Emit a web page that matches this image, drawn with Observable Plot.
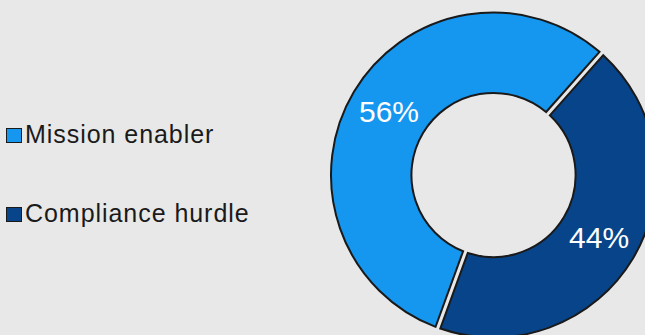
<!DOCTYPE html>
<html>
<head>
<meta charset="utf-8">
<script src="https://cdn.jsdelivr.net/npm/d3@7"></script>
<script src="https://cdn.jsdelivr.net/npm/@observablehq/plot@0.6"></script>
<style>
  html, body { margin: 0; padding: 0; background: #e8e8e8; }
  #wrap { position: relative; width: 645px; height: 335px; overflow: hidden; background: #e8e8e8; }
  #wrap svg { position: absolute; left: 0; top: 0; }
  .lg-row { position: absolute; left: 6px; white-space: nowrap;
    font-family: "Liberation Sans", Arial, sans-serif; font-size: 25px; line-height: 30px;
    letter-spacing: 0.95px; color: #1a1a1a; }
  .lg-sw { display: inline-block; box-sizing: border-box; width: 15.5px; height: 15.5px;
    border: 1.6px solid #1a1a1a; margin-right: 3.5px; vertical-align: baseline; }
</style>
</head>
<body>
<div id="wrap"></div>
<script>
// ---- data ----
const categories = ["Mission enabler", "Compliance hurdle"];
const shares = [56, 44];
const sliceLabels = ["56%", "44%"];
const sliceColors = ["#1596ef", "#084489"];
const firstSliceAngle = 200;   // degrees, clockwise from 12 o'clock
const holeFraction = 0.505;    // inner radius / outer radius

const data = categories.map((c, i) => ({category: c, share: shares[i], label: sliceLabels[i]}));
const a0 = firstSliceAngle * Math.PI / 180;
const arcs = d3.pie().value(d => d.share).sort(null).startAngle(a0).endAngle(a0 + 2 * Math.PI)(data);
const labelR = (1 + holeFraction) / 2;
const labelData = arcs.map(a => {
  const m = (a.startAngle + a.endAngle) / 2;
  return {label: a.data.label, x: Math.sin(m) * labelR, y: Math.cos(m) * labelR};
});
const fallbackColor = d3.scaleOrdinal(categories, sliceColors);

function donut(index, scales, values, dimensions, context) {
  const cx = scales.x(0), cy = scales.y(0);
  const R = Math.abs(scales.x(1) - scales.x(0));
  const color = scales.color || fallbackColor;
  const arc = d3.arc().innerRadius(R * holeFraction).outerRadius(R).padRadius(R).padAngle(5 / R);
  const g = d3.create("svg:g").attr("transform", `translate(${cx},${cy})`);
  g.selectAll("path").data(arcs).join("path")
    .attr("d", arc)
    .attr("fill", d => color(d.data.category))
    .attr("stroke", "#1a1a1a")
    .attr("stroke-width", 2)
    .attr("stroke-linejoin", "miter");
  return g.node();
}

const chart = Plot.plot({
  width: 645,
  height: 335,
  margin: 0,
  x: {domain: [-1, 1], range: [331, 656], axis: null},
  y: {domain: [-1, 1], range: [337.5, 12.5], axis: null},
  color: {type: "ordinal", domain: categories, range: sliceColors},
  style: {background: "transparent", overflow: "visible"},
  marks: [
    donut,
    Plot.text(labelData, {
      x: "x", y: "y", text: "label", fill: "white",
      fontSize: 30, fontFamily: "Liberation Sans, Arial, sans-serif"
    })
  ]
});

const wrap = document.getElementById("wrap");
wrap.appendChild(chart);

// legend (HTML, from the same arrays)
const rowTops = [119.3, 198];
categories.forEach((c, i) => {
  const row = document.createElement("div");
  row.className = "lg-row";
  row.style.top = rowTops[i] + "px";
  const sw = document.createElement("span");
  sw.className = "lg-sw";
  sw.style.background = sliceColors[i];
  row.appendChild(sw);
  row.appendChild(document.createTextNode(c));
  wrap.appendChild(row);
});
</script>
</body>
</html>
